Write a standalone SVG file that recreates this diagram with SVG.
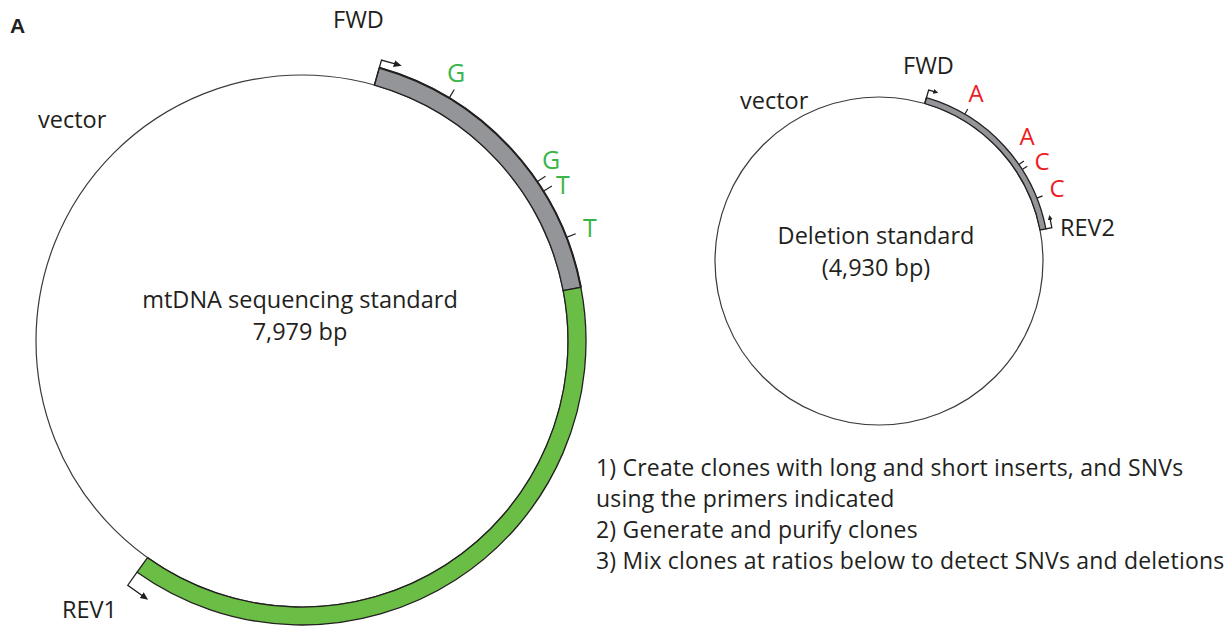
<svg xmlns="http://www.w3.org/2000/svg" width="1232" height="629" viewBox="0 0 1232 629">
<style>
text{font-family:"Open Sans","Noto Sans","Liberation Sans",sans-serif;fill:#231f20}
.lbl{font-size:23.5px}
.lst{font-size:23px;letter-spacing:0.2px}
.snvg{font-size:25px;fill:#39b54a}
.snvr{font-size:24px;fill:#ed1c24}
.thin{fill:none;stroke:#3a3a3a;stroke-width:1.2}
.gray{fill:#939598;stroke:#231f20;stroke-width:1.3}
.green{fill:#6abd45;stroke:#231f20;stroke-width:1.3}
.tick{stroke:#231f20;stroke-width:1.2}
.primer{fill:none;stroke:#231f20;stroke-width:1.3}
</style>
<defs>
<marker id="ah" markerUnits="userSpaceOnUse" markerWidth="9" markerHeight="8" refX="1" refY="3.5" orient="auto"><path d="M0,0 L8,3.5 L0,7 Z" fill="#231f20"/></marker>
<marker id="ahs" markerUnits="userSpaceOnUse" markerWidth="6" markerHeight="6" refX="1" refY="2.5" orient="auto"><path d="M0,0 L5,2.5 L0,5 Z" fill="#231f20"/></marker>
</defs>
<rect width="1232" height="629" fill="#ffffff"/>
<text x="10" y="33" style="font-size:21px;font-weight:bold;font-family:'Liberation Sans',sans-serif">A</text>

<g id="mtdna-standard">
<circle class="thin" cx="302" cy="341" r="266"/>
<path class="gray" d="M374.4,85.1 L379.3,67.7 A284,284 0 0 1 580.9,287.3 L563.2,290.7 A266,266 0 0 0 374.4,85.1 Z"/>
<path d="M379.3,67.7 A284,284 0 0 1 580.9,287.3" fill="none" stroke="#231f20" stroke-width="2"/>
<path class="green" d="M563.2,290.7 L580.9,287.3 A284,284 0 0 1 137.1,572.2 L147.5,557.6 A266,266 0 0 0 563.2,290.7 Z"/>
<text class="lbl" x="300" y="308" text-anchor="middle">mtDNA sequencing standard</text>
<text class="lbl" x="300" y="340" text-anchor="middle">7,979 bp</text>
<text class="lbl" x="38" y="128">vector</text>
</g>

<g id="left-snvs">
<line class="tick" x1="302" y1="57" x2="302" y2="47" transform="rotate(31.2 302 341)"/>
<line class="tick" x1="302" y1="57" x2="302" y2="47" transform="rotate(55.9 302 341)"/>
<line class="tick" x1="302" y1="57" x2="302" y2="47" transform="rotate(58.2 302 341)"/>
<line class="tick" x1="302" y1="57" x2="302" y2="47" transform="rotate(68.6 302 341)"/>
<text class="snvg" x="456" y="82" text-anchor="middle">G</text>
<text class="snvg" x="551" y="169" text-anchor="middle">G</text>
<text class="snvg" x="563" y="194" text-anchor="middle">T</text>
<text class="snvg" x="590" y="237" text-anchor="middle">T</text>
</g>

<g id="fwd-primer-left">
<path class="primer" d="M302,75 V49 H316" transform="rotate(15.8 302 341)" marker-end="url(#ah)"/>
<text class="lbl" x="333" y="28">FWD</text>
</g>

<g id="rev1-primer">
<path class="primer" d="M302,57 V41 H284" transform="rotate(215.5 302 341)" marker-end="url(#ah)"/>
<text class="lbl" x="62" y="618">REV1</text>
</g>

<g id="deletion-standard">
<circle class="thin" cx="879" cy="261" r="164"/>
<path class="gray" d="M924.8,103.5 L926.4,97.7 A170,170 0 0 1 1045.9,228.9 L1040,230 A164,164 0 0 0 924.8,103.5 Z"/>
<text class="lbl" x="876" y="244" text-anchor="middle">Deletion standard</text>
<text class="lbl" x="876" y="276" text-anchor="middle">(4,930 bp)</text>
<text class="lbl" x="740" y="109">vector</text>
</g>

<g id="right-snvs">
<line class="tick" x1="879" y1="91" x2="879" y2="85" transform="rotate(30.3 879 261)"/>
<line class="tick" x1="879" y1="91" x2="879" y2="85" transform="rotate(55.4 879 261)"/>
<line class="tick" x1="879" y1="91" x2="879" y2="85" transform="rotate(57.4 879 261)"/>
<line class="tick" x1="879" y1="91" x2="879" y2="85" transform="rotate(68.3 879 261)"/>
<text class="snvr" x="976" y="102" text-anchor="middle">A</text>
<text class="snvr" x="1027" y="145" text-anchor="middle">A</text>
<text class="snvr" x="1042" y="170" text-anchor="middle">C</text>
<text class="snvr" x="1057" y="197" text-anchor="middle">C</text>
</g>

<g id="fwd-primer-right">
<path class="primer" d="M879,97 V83 H885" transform="rotate(16.2 879 261)" marker-end="url(#ahs)"/>
<text class="lbl" x="903" y="74">FWD</text>
</g>

<g id="rev2-primer">
<path class="primer" d="M879,91 V85 H870" transform="rotate(79.1 879 261)" marker-end="url(#ahs)"/>
<text class="lbl" x="1060" y="236">REV2</text>
</g>

<g id="steps">
<text class="lst" x="596" y="476">1) Create clones with long and short inserts, and SNVs</text>
<text class="lst" x="596" y="507">using the primers indicated</text>
<text class="lst" x="596" y="538">2) Generate and purify clones</text>
<text class="lst" x="596" y="569">3) Mix clones at ratios below to detect SNVs and deletions</text>
</g>
</svg>
